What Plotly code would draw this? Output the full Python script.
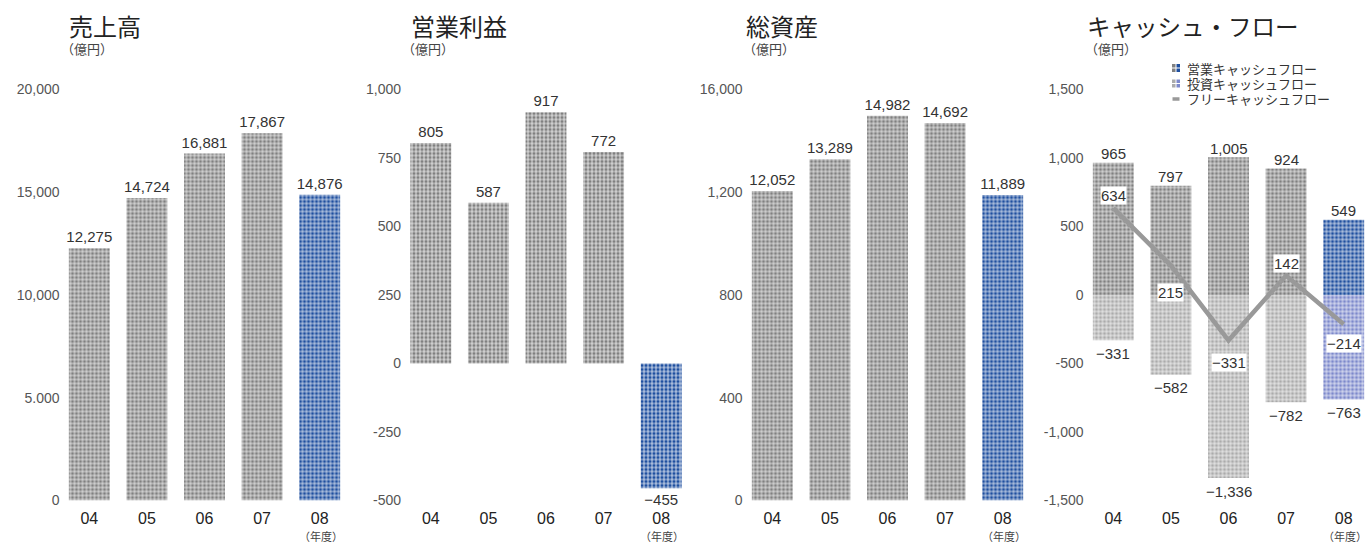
import plotly.graph_objects as go

# ---- data -------------------------------------------------------------
years = ["04", "05", "06", "07", "08"]
sales = [12275, 14724, 16881, 17867, 14876]
operating_income = [805, 587, 917, 772, -455]
total_assets = [12052, 13289, 14982, 14692, 11889]
operating_cf = [965, 797, 1005, 924, 549]
investing_cf = [-331, -582, -1336, -782, -763]
free_cf = [634, 215, -331, 142, -214]

sales_ticks = [0, 5000, 10000, 15000, 20000]
sales_ticktext = ["0", "5.000", "10,000", "15,000", "20,000"]
oi_ticks = [-500, -250, 0, 250, 500, 750, 1000]
oi_ticktext = ["-500", "-250", "0", "250", "500", "750", "1,000"]
assets_ticks = [0, 4000, 8000, 12000, 16000]
assets_ticktext = ["0", "400", "800", "1,200", "16,000"]
cf_ticks = [-1500, -1000, -500, 0, 500, 1000, 1500]
cf_ticktext = ["-1,500", "-1,000", "-500", "0", "500", "1,000", "1,500"]

titles = ["売上高", "営業利益", "総資産", "キャッシュ・フロー"]
unit_label = "（億円）"
year_unit = "（年度）"
legend_labels = ["営業キャッシュフロー", "投資キャッシュフロー", "フリーキャッシュフロー"]

# ---- styling ------------------------------------------------------------
W, H = 1365, 543
FONT = "Liberation Sans, Arial, Noto Sans CJK JP, sans-serif"
JP_FONT = "Noto Sans CJK JP, sans-serif"
GRAY = "#808080"
BLUE = "#1f4f9f"
LIGHT_GRAY = "#ababab"
LIGHT_BLUE = "#7d89cb"
LINE_GRAY = "#999999"
TEXT = "#333333"
TICK = "#555555"


def px(x):
    return x / W


def py(y):
    return 1 - y / H


def fmt(v):
    s = f"{abs(v):,}"
    return ("−" + s) if v < 0 else s


def tiles(colors):
    # per-bar tile colour with a white "+" grid -> small square tiles
    return dict(
        color=colors[0],
        line=dict(width=0),
        pattern=dict(shape="+", bgcolor=colors, fgcolor="white",
                     size=4, solidity=0.34, fillmode="replace"),
    )


main_colors = [GRAY] * 4 + [BLUE]
inv_colors = [LIGHT_GRAY] * 4 + [LIGHT_BLUE]

STEP = 57.6
PLOT_W = STEP * 5
x_starts = [60.5, 402.0, 743.5, 1084.5]
title_x = [67, 409, 744, 1085]
Y_TOP, Y_BOT = 89.5, 500.5

fig = go.Figure()

panels = [sales, operating_income, total_assets]

for i, vals in enumerate(panels):
    n = "" if i == 0 else str(i + 1)
    fig.add_trace(go.Bar(
        x=years, y=vals, width=0.71,
        marker=tiles(main_colors),
        text=[fmt(v) for v in vals], textposition="outside",
        textfont=dict(family=FONT, size=15, color=TEXT),
        cliponaxis=False, constraintext="none",
        xaxis="x" + n, yaxis="y" + n, showlegend=False,
    ))

# cash-flow panel: stacked operating / investing bars plus free cash-flow line
fig.add_trace(go.Bar(
    x=years, y=operating_cf, width=0.71, marker=tiles(main_colors),
    xaxis="x4", yaxis="y4", showlegend=False,
))
fig.add_trace(go.Bar(
    x=years, y=investing_cf, width=0.71, marker=tiles(inv_colors),
    xaxis="x4", yaxis="y4", showlegend=False,
))
fig.add_trace(go.Scatter(
    x=years, y=free_cf, mode="lines", line=dict(color=LINE_GRAY, width=4.5),
    xaxis="x4", yaxis="y4", showlegend=False, hoverinfo="skip",
))

annotations = []
# operating / investing cash-flow values above and below the stacks
for idx, v in enumerate(operating_cf):
    annotations.append(dict(
        x=idx, y=v, xref="x4", yref="y4", text=fmt(v), showarrow=False,
        yshift=9, font=dict(family=FONT, size=15, color=TEXT),
    ))
for idx, v in enumerate(investing_cf):
    annotations.append(dict(
        x=idx, y=v, xref="x4", yref="y4", text=fmt(v), showarrow=False,
        yshift=-13, font=dict(family=FONT, size=15, color=TEXT),
    ))

# free cash-flow value boxes (x given as category index)
fcf_shift = [13, -27, -22, 12, -19]
for idx, (v, s) in enumerate(zip(free_cf, fcf_shift)):
    annotations.append(dict(
        x=idx, y=v, xref="x4", yref="y4", text=fmt(v), showarrow=False,
        yshift=s, bgcolor="white", borderpad=0,
        font=dict(family=FONT, size=15, color=TEXT),
    ))

layout_axes = {}
all_ticks = [(sales_ticks, sales_ticktext, [0, 20000]),
             (oi_ticks, oi_ticktext, [-500, 1000]),
             (assets_ticks, assets_ticktext, [0, 16000]),
             (cf_ticks, cf_ticktext, [-1500, 1500])]
for i in range(4):
    n = "" if i == 0 else str(i + 1)
    x0 = x_starts[i]
    x1 = min(x0 + PLOT_W, W)
    xr_hi = -0.5 + (x1 - x0) / STEP
    tv, tt, yr = all_ticks[i]
    layout_axes["xaxis" + n] = dict(
        domain=[px(x0), px(x1)], range=[-0.5, xr_hi], type="category",
        anchor="y" + n, showgrid=False, zeroline=False, showline=False,
        ticks="", ticklabelstandoff=6, automargin=False,
        tickfont=dict(family=FONT, size=16, color="#222222"),
        fixedrange=True,
    )
    layout_axes["yaxis" + n] = dict(
        domain=[py(Y_BOT), py(Y_TOP)], range=yr, anchor="x" + n,
        showgrid=False, zeroline=False, showline=False, ticks="",
        tickvals=tv, ticktext=tt, automargin=False,
        tickfont=dict(family=FONT, size=14, color=TICK), fixedrange=True,
    )
    # panel title and unit
    annotations.append(dict(
        x=px(title_x[i]), y=py(26), xref="paper", yref="paper", xanchor="left",
        yanchor="middle", text=titles[i], showarrow=False,
        font=dict(family=JP_FONT, size=23.5 if i == 3 else 24, color="#222222"),
    ))
    annotations.append(dict(
        x=px(x0 - 2), y=py(49), xref="paper", yref="paper", xanchor="left",
        yanchor="middle", text=unit_label, showarrow=False,
        font=dict(family=JP_FONT, size=13, color="#444444"),
    ))
    # fiscal-year unit under the last category
    annotations.append(dict(
        x=px(x0 + STEP * 4.5 + 1), y=py(535.5), xref="paper", yref="paper",
        xanchor="center", yanchor="middle", text=year_unit, showarrow=False,
        font=dict(family=JP_FONT, size=11, color="#444444"),
    ))

# legend (drawn manually so icons show both tile colours)
shapes = []
leg_rows = [68, 83.5, 99]
icon_pairs = [(GRAY, BLUE), (LIGHT_GRAY, LIGHT_BLUE)]
for r, (c_left, c_right) in enumerate(icon_pairs):
    yc = leg_rows[r]
    for col, c in enumerate((c_left, c_right)):
        xl = 1172 + col * 4.5
        for k in range(2):
            yt = yc - 4 + k * 4.5
            shapes.append(dict(
                type="rect", xref="paper", yref="paper",
                x0=px(xl), x1=px(xl + 3.5), y0=py(yt + 3.5), y1=py(yt),
                fillcolor=c, line=dict(width=0), layer="above",
            ))
shapes.append(dict(
    type="line", xref="paper", yref="paper",
    x0=px(1172.5), x1=px(1179.5), y0=py(leg_rows[2]), y1=py(leg_rows[2]),
    line=dict(color=LINE_GRAY, width=3.5), layer="above",
))
for r, lab in enumerate(legend_labels):
    annotations.append(dict(
        x=px(1185), y=py(leg_rows[r]), xref="paper", yref="paper",
        xanchor="left", yanchor="middle", text=lab, showarrow=False,
        font=dict(family=JP_FONT, size=13, color=TEXT),
    ))

fig.update_layout(
    width=W, height=H, margin=dict(l=0, r=0, t=0, b=0, pad=0),
    paper_bgcolor="white", plot_bgcolor="white",
    barmode="relative", showlegend=False,
    font=dict(family=FONT, color=TEXT),
    annotations=annotations, shapes=shapes,
    **layout_axes,
)

fig.write_html("out.html", config={"displayModeBar": False})
